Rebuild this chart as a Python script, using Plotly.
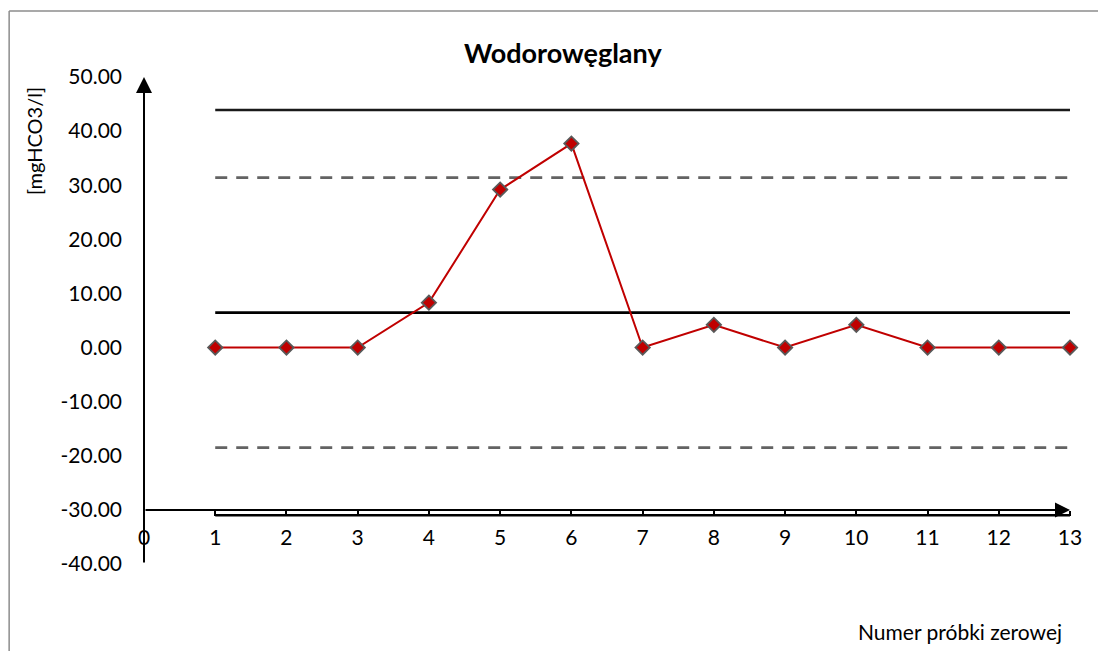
import plotly.graph_objects as go

# ---- data ----
samples = [1, 2, 3, 4, 5, 6, 7, 8, 9, 10, 11, 12, 13]
values = [0.0, 0.0, 0.0, 8.3, 29.2, 37.7, 0.0, 4.2, 0.0, 4.2, 0.0, 0.0, 0.0]
center_line = 6.45
upper_control = 43.9
upper_warning = 31.4
lower_warning = -18.5
lower_control = -31.0
x_ticks = [0, 1, 2, 3, 4, 5, 6, 7, 8, 9, 10, 11, 12, 13]
y_ticks = [-40, -30, -20, -10, 0, 10, 20, 30, 40, 50]
y_tick_labels = ["-40.00", "-30.00", "-20.00", "-10.00", "0.00", "10.00",
                 "20.00", "30.00", "40.00", "50.00"]
x_axis_cross = -30

# ---- layout geometry (page has an 8px body margin) ----
OFF = 8
W, H = 1106 - OFF, 651 - OFF
L = 143.5 - OFF
R = W - (1070.5 - OFF)
T = 76.5 - OFF
B = H - (564.3 - OFF)
PW, PH = W - L - R, H - T - B


def px(xp):
    return (xp - OFF - L) / PW


def py(yp):
    return (H - B - (yp - OFF)) / PH


FONT = "Lato"

fig = go.Figure()

line_x = [samples[0], samples[-1]]
for val, dash, color in [
    (upper_control, "solid", "#1a1a1a"),
    (upper_warning, "12px,9px", "#636363"),
    (center_line, "solid", "#000000"),
    (lower_warning, "12px,9px", "#636363"),
    (lower_control, "solid", "#000000"),
]:
    fig.add_trace(go.Scatter(
        x=line_x, y=[val, val], mode="lines",
        line=dict(color=color, width=2.6, dash=dash),
        showlegend=False, hoverinfo="skip", cliponaxis=False,
    ))

fig.add_trace(go.Scatter(
    x=samples, y=values, mode="lines+markers",
    line=dict(color="#C00000", width=2),
    marker=dict(symbol="diamond", size=11, color="#C00000",
                line=dict(color="#595959", width=1.8)),
    showlegend=False, cliponaxis=False,
))

# axes with arrows
fig.add_annotation(x=0, y=y_ticks[-1], ax=0, ay=y_ticks[0], xref="x", yref="y",
                   axref="x", ayref="y", text="", showarrow=True,
                   arrowhead=2, arrowsize=1.6, arrowwidth=2, arrowcolor="black")
fig.add_annotation(x=x_ticks[-1], y=x_axis_cross, ax=0, ay=x_axis_cross, xref="x", yref="y",
                   axref="x", ayref="y", text="", showarrow=True,
                   arrowhead=2, arrowsize=1.5, arrowwidth=2, arrowcolor="black")

# titles
fig.add_annotation(x=px(563), y=py(52), xref="paper", yref="paper",
                   text="<b>Wodoroweglany</b>".replace("weglany", "węglany"),
                   showarrow=False, xanchor="center", yanchor="middle",
                   font=dict(family=FONT, size=27, color="black"))
fig.add_annotation(x=px(34), y=py(141), xref="paper", yref="paper",
                   text="[mgHCO3/l]", textangle=-90,
                   showarrow=False, xanchor="center", yanchor="middle",
                   font=dict(family=FONT, size=20, color="black"))
fig.add_annotation(x=px(960), y=py(632), xref="paper", yref="paper",
                   text="Numer próbki zerowej",
                   showarrow=False, xanchor="center", yanchor="middle",
                   font=dict(family=FONT, size=21, color="black"))

# outer border (top and left)
fig.add_shape(type="line", xref="paper", yref="paper",
              x0=px(8.5), y0=py(10.5), x1=px(1110), y1=py(10.5),
              line=dict(color="#8c8c8c", width=1.5))
fig.add_shape(type="line", xref="paper", yref="paper",
              x0=px(8.5), y0=py(10.5), x1=px(8.5), y1=py(660),
              line=dict(color="#8c8c8c", width=1.5))

fig.update_layout(
    width=W, height=H, autosize=False,
    margin=dict(l=L, r=R, t=T, b=B, pad=0),
    paper_bgcolor="white", plot_bgcolor="white",
    font=dict(family=FONT, color="black"),
    xaxis=dict(range=[x_ticks[0], x_ticks[-1]], tickvals=x_ticks,
               ticks="outside", ticklen=5, tickwidth=2, tickcolor="black",
               showgrid=False, zeroline=False, showline=False,
               ticklabelstandoff=4,
               anchor="free", position=(x_axis_cross - y_ticks[0]) / (y_ticks[-1] - y_ticks[0]),
               tickfont=dict(family=FONT, size=21, color="black")),
    yaxis=dict(range=[y_ticks[0], y_ticks[-1]], tickvals=y_ticks, ticktext=y_tick_labels,
               ticks="", showgrid=False, zeroline=False, showline=False,
               ticklabelstandoff=21,
               tickfont=dict(family=FONT, size=21, color="black")),
)

fig.write_html("out.html")
